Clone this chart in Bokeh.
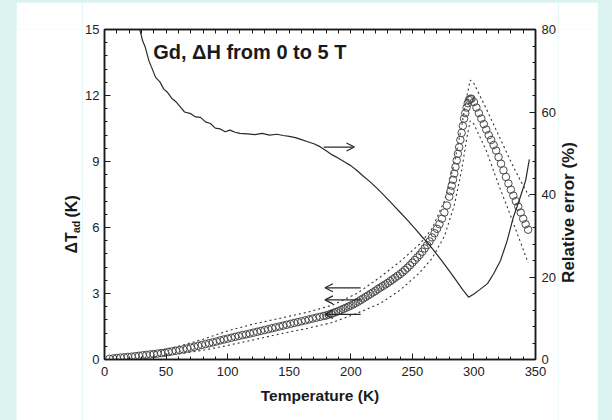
from bokeh.plotting import figure
from bokeh.models import (Range1d, LinearAxis, SingleIntervalTicker, FixedTicker, Label,
                          Arrow, OpenHead, Spacer)
from bokeh.layouts import row, column
from bokeh.core.properties import value
from bokeh.embed import file_html
from bokeh.resources import INLINE
import math

# ---------------- data ----------------
# Adiabatic temperature change (left axis, K) - open circles
temp_circ = [4, 7, 10, 13, 16, 19, 22, 25, 28, 31, 34, 37, 40, 43, 46, 49, 52, 55, 58,
             61, 64, 67, 70, 73, 76, 79, 82, 85, 88, 91, 94, 97, 100, 103, 106, 109,
             112, 115, 118, 121, 124, 127, 130, 133, 136, 139, 142, 145, 148, 151,
             154, 157, 160, 163, 166, 169, 172, 175, 178,
             180, 182, 184, 186, 188, 190, 192, 194, 196, 198, 200, 202, 204, 206,
             208, 210, 212, 214, 216, 218, 220, 222, 224, 226, 228, 230, 232, 234,
             236, 238, 240, 242, 244, 246, 248, 250, 252, 254, 256, 258, 260, 262,
             264, 266, 268, 270, 272, 274, 276, 278, 280, 281, 282, 283, 284, 285,
             286, 287, 288, 289, 290, 291, 292, 293, 294, 295, 296, 297, 298, 300,
             302, 304, 306, 308, 310, 312, 314, 316, 318, 320, 322, 324, 326, 328,
             330, 332, 334, 336, 338, 340, 342, 344]
dtad_circ = [0.03, 0.05, 0.07, 0.09, 0.10, 0.12, 0.13, 0.15, 0.17, 0.19, 0.21, 0.23,
             0.25, 0.27, 0.29, 0.31, 0.34, 0.37, 0.40, 0.43, 0.46, 0.50, 0.54, 0.58,
             0.62, 0.66, 0.70, 0.74, 0.78, 0.82, 0.87, 0.91, 0.95, 0.99, 1.03, 1.07,
             1.11, 1.14, 1.18, 1.22, 1.26, 1.30, 1.34, 1.38, 1.42, 1.46, 1.50, 1.54,
             1.58, 1.62, 1.66, 1.70, 1.74, 1.78, 1.82, 1.86, 1.90, 1.94, 1.98,
             2.00, 2.04, 2.08, 2.12, 2.16, 2.20, 2.25, 2.30, 2.35, 2.40, 2.45, 2.51,
             2.57, 2.63, 2.70, 2.77, 2.84, 2.91, 2.98, 3.05, 3.12, 3.20, 3.27, 3.34,
             3.41, 3.48, 3.56, 3.64, 3.72, 3.80, 3.88, 3.97, 4.07, 4.17, 4.28, 4.40,
             4.52, 4.64, 4.76, 4.90, 5.05, 5.20, 5.37, 5.55, 5.74, 5.94, 6.15, 6.40,
             6.68, 7.00, 7.40, 7.65, 7.90, 8.17, 8.45, 8.75, 9.05, 9.35, 9.65, 9.98,
             10.30, 10.62, 10.95, 11.20, 11.45, 11.65, 11.80, 11.85, 11.85, 11.70,
             11.45, 11.20, 10.95, 10.70, 10.45, 10.20, 9.98, 9.75, 9.50, 9.20, 8.90,
             8.60, 8.30, 8.00, 7.72, 7.45, 7.20, 6.95, 6.68, 6.40, 6.15, 5.90]

# Upper / lower bounds (dotted)
temp_upper = [40, 60, 80, 100, 120, 143, 165, 185, 205, 224, 240, 256, 266, 276, 284,
              290, 294, 297, 300, 310, 320, 330, 338, 345]
dtad_upper = [0.35, 0.60, 0.92, 1.30, 1.60, 1.88, 2.15, 2.47, 3.00, 3.75, 4.45, 5.25,
              5.95, 7.20, 8.90, 10.60, 11.90, 12.70, 12.55, 11.40, 10.20, 9.00, 8.10,
              7.40]
temp_lower = [40, 60, 80, 100, 120, 143, 165, 185, 205, 224, 240, 256, 266, 276, 284,
              290, 294, 297, 300, 310, 319, 330, 344]
dtad_lower = [0.12, 0.25, 0.42, 0.64, 0.88, 1.17, 1.42, 1.68, 2.10, 2.55, 3.15, 3.95,
              4.60, 5.60, 7.00, 8.60, 10.00, 10.85, 10.70, 9.50, 8.10, 6.50, 4.40]

# Relative error (right axis, %) - solid line
temp_err = [28.7, 31, 33, 36, 38, 41.5, 45, 48, 51, 55, 58, 61.7, 65, 70, 74, 78, 82,
            86, 90, 94, 98, 102, 106, 110, 116, 122, 128, 134, 140, 145, 150, 155, 160,
            165, 170, 175, 180, 185, 190, 195, 200, 205, 210, 216, 222, 228, 234, 240,
            246, 252, 258, 263, 268, 274, 280, 286, 291, 295.7, 300, 305, 311, 316,
            321.6, 327, 332, 337, 342, 345]
rel_err = [80.0, 77.2, 75.8, 72.5, 71.0, 68.4, 67.3, 65.6, 64.8, 63.2, 62.5, 61.2, 60.0,
           59.6, 58.8, 58.7, 57.6, 57.2, 56.1, 55.9, 55.2, 55.6, 55.1, 54.8, 54.7,
           54.5, 54.8, 54.4, 54.6, 54.3, 54.1, 53.8, 53.3, 52.8, 52.3, 51.6, 50.6,
           49.6, 48.8, 47.9, 47.0, 45.8, 44.5, 43.0, 41.3, 39.5, 37.6, 35.7, 33.8,
           31.8, 29.7, 28.1, 26.2, 23.9, 21.5, 19.0, 16.9, 15.1, 15.9, 17.0, 18.4,
           20.8, 24.0, 28.8, 34.5, 38.8, 43.4, 48.5]

# Arrows (pointing to the axis each curve belongs to)
arrow_right_x = [178, 203]
arrow_right_y = 51.5
arrow_left_x = [208, 179]
arrow_left_y = [3.26, 2.71, 2.05]

top_minor_ticks = [0, 10, 20, 30, 40, 50, 60, 70, 80, 90, 100, 110, 120, 130, 140, 150,
                   160, 170, 180, 190, 200, 210, 220, 230, 240, 250, 260, 270, 280, 290,
                   300, 310, 320, 330, 340, 350]
title_text = "Gd, \u0394H from 0 to 5 T"
x_title = "Temperature (K)"
y_title_main, y_title_sub, y_title_unit = "\u0394T", "ad", "(K)"
y2_title = "Relative error (%)"

# ---------------- styling ----------------
BG = "#dcf4f1"
FONT = "Liberation Sans"
INK = "#1a1a1a"

p = figure(width=476, height=418, x_range=Range1d(0, 350), y_range=Range1d(0, 15),
           output_backend="svg", toolbar_location=None,
           min_border_left=22, min_border_right=23, min_border_top=27,
           min_border_bottom=61)
p.extra_y_ranges = {"err": Range1d(0, 80)}
p.xgrid.visible = False
p.ygrid.visible = False
p.background_fill_color = "white"
p.border_fill_color = "white"
p.outline_line_color = INK
p.outline_line_width = 1.5


def style(ax, standoff=6):
    ax.axis_line_width = 1.5
    ax.axis_line_color = INK
    ax.major_tick_in = 6
    ax.major_tick_out = 0
    ax.minor_tick_in = 3
    ax.minor_tick_out = 0
    ax.major_tick_line_color = INK
    ax.minor_tick_line_color = INK
    ax.major_label_text_font = FONT
    ax.major_label_text_font_size = "13px"
    ax.major_label_text_color = "#222222"
    ax.major_label_standoff = standoff


xa = p.xaxis[0]
xa.ticker = SingleIntervalTicker(interval=50, num_minor_ticks=5)
style(xa, 7)
xa.axis_label = x_title
xa.axis_label_text_font = FONT
xa.axis_label_text_font_style = "bold"
xa.axis_label_text_font_size = "15.5px"
xa.axis_label_text_color = INK
xa.axis_label_standoff = 8

ya = p.yaxis[0]
ya.ticker = SingleIntervalTicker(interval=3, num_minor_ticks=5)
style(ya, 5)

ra = LinearAxis(y_range_name="err", ticker=SingleIntervalTicker(interval=20, num_minor_ticks=5))
style(ra, 6)
p.add_layout(ra, "right")

ta = LinearAxis(ticker=FixedTicker(ticks=[], minor_ticks=top_minor_ticks))
style(ta)
ta.minor_tick_in = 4
p.add_layout(ta, "above")

# dotted bounds
p.line(temp_upper, dtad_upper, line_color="#333333", line_width=1.1, line_dash="2 3")
p.line(temp_lower, dtad_lower, line_color="#333333", line_width=1.1, line_dash="2 3")

# circles
p.scatter(temp_circ, dtad_circ, marker="circle", size=7.5, fill_color=None,
          line_color="#4a4a4a", line_width=1)

# relative error
p.line(temp_err, rel_err, y_range_name="err", line_color="#2a2a2a", line_width=1.2)

# arrows
p.add_layout(Arrow(end=OpenHead(size=8, line_width=1.2, line_color="#2a2a2a"),
                   x_start=arrow_right_x[0], x_end=arrow_right_x[1],
                   y_start=arrow_right_y, y_end=arrow_right_y, y_range_name="err",
                   line_width=1.2, line_color="#2a2a2a"))
for yy in arrow_left_y:
    p.add_layout(Arrow(end=OpenHead(size=8, line_width=1.2, line_color="#2a2a2a"),
                       x_start=arrow_left_x[0], x_end=arrow_left_x[1],
                       y_start=yy, y_end=yy, line_width=1.2, line_color="#2a2a2a"))

# title inside plot
p.add_layout(Label(x=39.5, y=13.97, text=title_text, text_font=FONT,
                   text_font_style="bold", text_font_size="20px",
                   text_baseline="middle", text_align="left", text_color=INK))


def label_panel(width):
    # panel whose data coordinates are its own pixels (y measured from the top)
    f = figure(width=width, height=418, frame_width=width, frame_height=418,
               x_range=Range1d(0, width), y_range=Range1d(418, 0), title=None,
               output_backend="svg", toolbar_location=None,
               min_border_left=0, min_border_right=0, min_border_top=0,
               min_border_bottom=0, x_axis_location=None, y_axis_location=None)
    f.xgrid.visible = False
    f.ygrid.visible = False
    f.outline_line_color = None
    f.background_fill_color = "white"
    f.border_fill_color = "white"
    return f


# left axis title panel (page x 16..82, page y 2..420)
lp = label_panel(66)
lp.text(x=[55], y=[224], text=[y_title_main], angle=math.pi / 2,
        text_font=value(FONT), text_font_style="bold", text_font_size="16px",
        text_baseline="middle", text_align="left", text_color=INK)
lp.text(x=[59], y=[203.5], text=[y_title_sub], angle=math.pi / 2,
        text_font=value(FONT), text_font_style="bold", text_font_size="10.5px",
        text_baseline="middle", text_align="left", text_color=INK)
lp.text(x=[55], y=[188], text=[y_title_unit], angle=math.pi / 2,
        text_font=value(FONT), text_font_style="bold", text_font_size="16px",
        text_baseline="middle", text_align="left", text_color=INK)

# right axis title panel (page x 558..598)
rp = label_panel(40)
rp.text(x=[10], y=[183], text=[y2_title], angle=math.pi / 2,
        text_font=value(FONT), text_font_style="bold", text_font_size="17px",
        text_baseline="middle", text_align="center", text_color=INK)

sp_top = Spacer(width=612, height=2, styles={"background-color": BG})
sp_left = Spacer(width=16, height=418, styles={"background-color": BG})
sp_right = Spacer(width=14, height=418, styles={"background-color": BG})
layout = column(sp_top, row(sp_left, lp, p, rp, sp_right, spacing=0), spacing=0,
                styles={"background-color": BG})

open("out.html", "w").write(file_html(layout, INLINE))
